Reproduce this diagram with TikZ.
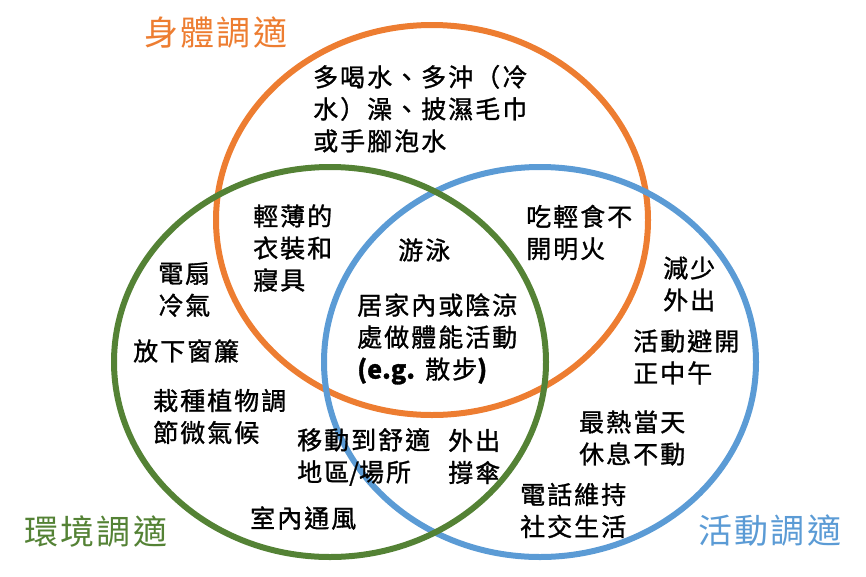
\documentclass[tikz,border=0pt]{standalone}
\usepackage{fontspec}
\setmainfont{Noto Sans CJK TC}
\newfontfamily\cjk[LetterSpace=8,FakeBold=1.2]{Noto Sans CJK TC}
\newfontfamily\latb[FakeBold=1.2]{Noto Sans CJK TC}
\newfontfamily\cjkt[LetterSpace=6]{Noto Sans CJK TC}
\usetikzlibrary{shapes.geometric}
\definecolor{corange}{HTML}{ED7D31}
\definecolor{cgreen}{HTML}{548235}
\definecolor{cblue}{HTML}{5B9BD5}
\tikzset{
  ring/.style={draw, ellipse, line width=6pt, minimum width=432pt, minimum height=390pt, inner sep=0pt},
  txt/.style={anchor=west, inner sep=0pt, align=left, font=\cjk\fontsize{25}{32}\selectfont},
  ttl/.style={anchor=center, inner sep=0pt, font=\cjkt\fontsize{34}{40}\selectfont},
}
\begin{document}
\begin{tikzpicture}[x=1pt,y=-1pt]
\useasboundingbox (0,0) rectangle (866,576);
\node[ring, draw=corange] (body) at (432,220) {};
\node[ring, draw=cblue] (act) at (540,362) {};
\node[ring, draw=cgreen] (env) at (330,362) {};
\node[ttl, text=corange] (tbody) at (216,33) {身體調適};
\node[ttl, text=cgreen] (tenv) at (96,532) {環境調適};
\node[ttl, text=cblue] (tact) at (770,531) {活動調適};
\node[txt] (t1) at (313,108.7) {多喝水、多沖（冷\\水）澡、披濕毛巾\\或手腳泡水};
\node[txt] (t2) at (253,248) {輕薄的\\衣裝和\\寢具};
\node[txt] (t3) at (398,250) {游泳};
\node[txt] (t4) at (526,232.5) {吃輕食不\\開明火};
\node[txt] (t5) at (158,289.5) {電扇\\冷氣};
\node[txt] (t6) at (133,351) {放下窗簾};
\node[txt] (t7) at (153,416.5) {栽種植物調\\節微氣候};
\node[txt] (t8) at (357,339) {居家內或陰涼\\處做體能活動\\{\latb\bfseries (e.g.} 散步{\latb\bfseries )}};
\node[txt] (t9) at (297,457) {移動到舒適\\地區{\latb /}場所};
\node[txt] (t10) at (250,518) {室內通風};
\node[txt] (t11) at (448,456.5) {外出\\撐傘};
\node[txt] (t12) at (663,284) {減少\\外出};
\node[txt] (t13) at (633,357) {活動避開\\正中午};
\node[txt] (t14) at (579,438) {最熱當天\\休息不動};
\node[txt] (t15) at (520,510.5) {電話維持\\社交生活};
\end{tikzpicture}
\end{document}
